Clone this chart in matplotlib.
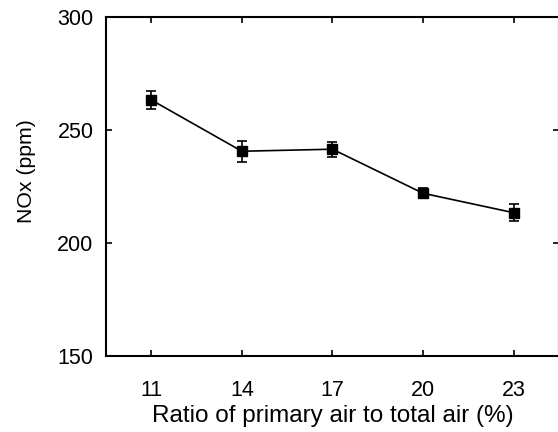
import numpy as np
import matplotlib.pyplot as plt

plt.rcParams['font.family'] = ['Liberation Sans', 'DejaVu Sans']

ratio = [11, 14, 17, 20, 23]              # primary air / total air (%)
nox = [263.3, 240.6, 241.5, 222.0, 213.4]  # NOx (ppm)
err = [4.0, 4.7, 3.4, 2.2, 3.8]

fig = plt.figure(figsize=(5.58, 4.32), dpi=100)
ax = fig.add_axes([106/558, (432-356)/432, (559-106)/558, (356-17)/432])

ax.errorbar(ratio, nox, yerr=err, color='black', marker='s', markersize=6.5,
            linewidth=1.2, elinewidth=1.2, capsize=3.5, capthick=1.2)

ax.set_xlim(9.5, 24.5)
ax.set_ylim(150, 300)
ax.set_xticks(ratio)
ax.set_yticks([150, 200, 250, 300])
ax.tick_params(direction='in', top=True, right=True, length=4, width=1.2,
               labelsize=15.5)
ax.tick_params(axis='x', pad=17)
ax.tick_params(axis='y', pad=9)
for s in ax.spines.values():
    s.set_linewidth(1.5)

ax.set_xlabel('Ratio of primary air to total air (%)', fontsize=17.5, labelpad=3)
ax.set_ylabel('NOx (ppm)', fontsize=15.3)
ax.yaxis.set_label_coords(-0.155, 0.546)

fig.savefig('out.png', dpi=100)
